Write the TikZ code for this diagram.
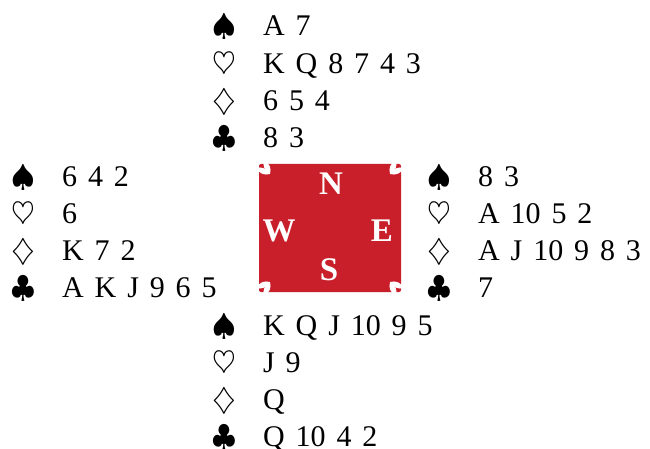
\documentclass[tikz,border=0pt]{standalone}
\usepackage{fontspec}
\setmainfont{Liberation Serif}[WordSpace=1.45]
\usepackage{tikz}
\usetikzlibrary{positioning}
\definecolor{compassred}{HTML}{C81F2B}
\tikzset{
  cards/.style={anchor=base west, inner sep=0pt, font=\fontsize{30}{30}\selectfont},
  seat/.style={text=white, inner sep=0pt, font=\fontsize{33}{33}\selectfont\bfseries},
  leaf/.style={fill=white, draw=none}
}
\newcommand{\suitbox}[1]{\makebox[51pt][l]{\scalebox{3.05}{\normalsize$#1$}}}

\begin{document}
\begin{tikzpicture}[x=1pt, y=-1pt]
\useasboundingbox (0,0) rectangle (650,449);
% the table
\node[fill=compassred, minimum width=142pt, minimum height=128pt, inner sep=0pt, rounded corners=2pt] (table) at (330,228) {};
\foreach \cx/\cy/\sx/\sy in {259/164/1/1, 401/164/-1/1, 259/292/1/-1, 401/292/-1/-1}{
  \begin{scope}[shift={(\cx,\cy)}, xscale=\sx, yscale=\sy]
    \fill[leaf] (11,10) to[bend left=40] (-3,4) to[bend left=40] (11,10);
    \fill[leaf] (11,10) to[bend left=40] (5,-4) to[bend left=40] (11,10);
  \end{scope}
}
\node[seat] (N) at (331,184) {N};
\node[seat] (W) at (279,231) {W};
\node[seat] (E) at (382,231) {E};
\node[seat] (S) at (329,270) {S};
% the hands
\foreach \s/\c [count=\i] in {\spadesuit/A 7, \heartsuit/K Q 8 7 4 3, \diamondsuit/6 5 4, \clubsuit/8 3}
  \node[cards] (north\i) at (212,{36+37.3*(\i-1)}) {\suitbox{\s}\c};
\foreach \s/\c [count=\i] in {\spadesuit/6 4 2, \heartsuit/6, \diamondsuit/K 7 2, \clubsuit/A K J 9 6 5}
  \node[cards] (west\i) at (11,{186+37.3*(\i-1)}) {\suitbox{\s}\c};
\foreach \s/\c [count=\i] in {\spadesuit/8 3, \heartsuit/A 10 5 2, \diamondsuit/A J 10 9 8 3, \clubsuit/7}
  \node[cards] (east\i) at (427,{186+37.3*(\i-1)}) {\suitbox{\s}\c};
\foreach \s/\c [count=\i] in {\spadesuit/K Q J 10 9 5, \heartsuit/J 9, \diamondsuit/Q, \clubsuit/Q 10 4 2}
  \node[cards] (south\i) at (212,{335+37.3*(\i-1)}) {\suitbox{\s}\c};
\end{tikzpicture}
\end{document}
